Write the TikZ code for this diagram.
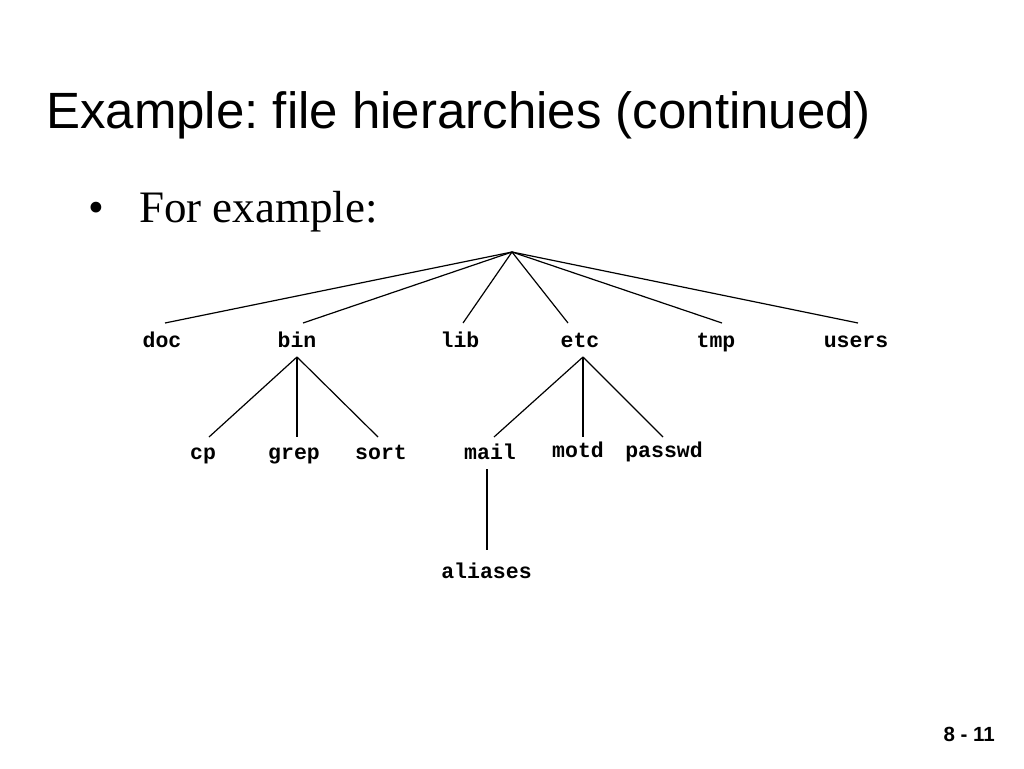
\documentclass[tikz,border=0pt]{standalone}
\usepackage{fontspec}
\setmainfont{Liberation Serif}
\newfontfamily\titlefont{Liberation Sans}
\newfontfamily\labelfont{Liberation Mono}
\frenchspacing
\begin{document}
\begin{tikzpicture}[x=1pt,y=-1pt,
  lbl/.style={inner sep=0pt,anchor=base,font=\labelfont\bfseries\fontsize{21.5}{24}\selectfont},
  edge/.style={line width=1.2pt,black}]
\useasboundingbox[fill=white] (0,0) rectangle (1024,768);
% title and bullet
\node[anchor=base west,inner sep=0pt,font=\titlefont\fontsize{51}{58}\selectfont] (title) at (46,128) {Example: file hierarchies (continued)};
\node[anchor=base west,inner sep=0pt,font=\fontsize{45}{50}\selectfont] (bullet) at (88,222) {\textbullet};
\node[anchor=base west,inner sep=0pt,font=\fontsize{45}{50}\selectfont] (intro) at (139,222) {For example:};
\node[anchor=base east,inner sep=0pt,font=\titlefont\bfseries\fontsize{20.5}{24}\selectfont] (page) at (995,741) {8 - 11};
% level 1 labels
\node[lbl] (doc) at (162,347) {doc};
\node[lbl] (bin) at (297,347) {bin};
\node[lbl] (lib) at (460,347) {lib};
\node[lbl] (etc) at (580,347) {etc};
\node[lbl] (tmp) at (716,347) {tmp};
\node[lbl] (users) at (856,347) {users};
% level 2 labels
\node[lbl] (cp) at (203,459) {cp};
\node[lbl] (grep) at (294,459) {grep};
\node[lbl] (sort) at (381,459) {sort};
\node[lbl] (mail) at (490,459) {mail};
\node[lbl] (motd) at (578,457) {motd};
\node[lbl] (passwd) at (664,457) {passwd};
% level 3
\node[lbl] (aliases) at (486.5,578) {aliases};
% connector points
\coordinate (root) at (512,252);
\coordinate (docT) at (165,323);
\coordinate (binT) at (303,323);
\coordinate (libT) at (463,323);
\coordinate (etcT) at (568,323);
\coordinate (tmpT) at (722,323);
\coordinate (usersT) at (858,323);
\coordinate (binB) at (297,357);
\coordinate (cpT) at (209,437);
\coordinate (grepT) at (297,437);
\coordinate (sortT) at (378,437);
\coordinate (etcB) at (583,357);
\coordinate (mailT) at (494,437);
\coordinate (motdT) at (583,437);
\coordinate (passwdT) at (663,437);
\coordinate (mailB) at (487,469);
\coordinate (aliasesT) at (487,550);
% connectors
\foreach \c in {docT,binT,libT,etcT,tmpT,usersT}
  \draw[edge] (root) -- (\c);
\foreach \c in {cpT,grepT,sortT}
  \draw[edge] (binB) -- (\c);
\foreach \c in {mailT,motdT,passwdT}
  \draw[edge] (etcB) -- (\c);
\draw[edge] (mailB) -- (aliasesT);
\end{tikzpicture}
\end{document}
